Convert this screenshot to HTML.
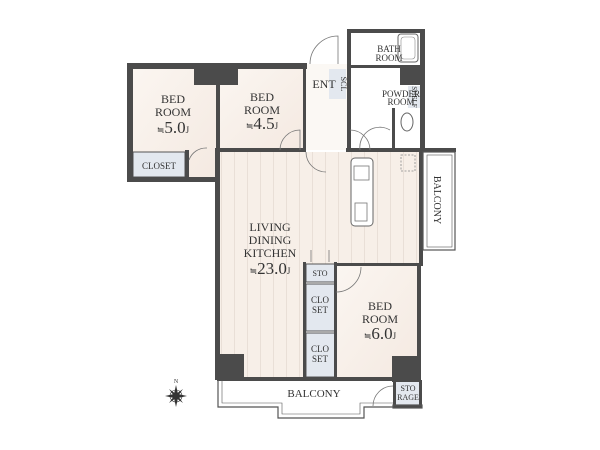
<!DOCTYPE html>
<html><head><meta charset="utf-8"><style>
html,body{margin:0;padding:0;background:#fff;width:600px;height:450px;overflow:hidden}
svg{display:block}
text{font-family:"Liberation Serif",serif;fill:#333;text-anchor:middle}
</style></head><body>
<svg width="600" height="450" viewBox="0 0 600 450" xmlns="http://www.w3.org/2000/svg">
<defs>
<linearGradient id="fl" x1="0" y1="0" x2="1" y2="1"><stop offset="0" stop-color="#fbf6f1"/><stop offset="1" stop-color="#f4e9e1"/></linearGradient>
<pattern id="pl" width="13" height="10" patternUnits="userSpaceOnUse"><rect width="13" height="10" fill="#f7efe8"/><line x1="0.5" y1="0" x2="0.5" y2="10" stroke="#e6dcd3" stroke-width="0.8"/></pattern>
</defs>
<rect x="130" y="67" width="88" height="113" fill="url(#fl)"/>
<rect x="218" y="67" width="87" height="83" fill="url(#fl)"/>
<rect x="305" y="64" width="45" height="86" fill="#fbf8f4"/>
<rect x="350" y="67" width="70" height="83" fill="#fff"/>
<rect x="220" y="152" width="201" height="113" fill="url(#pl)"/>
<rect x="220" y="265" width="86" height="113" fill="url(#pl)"/>
<rect x="336" y="265" width="84" height="113" fill="url(#fl)"/>
<rect x="133" y="152" width="52" height="25" fill="#e3e8ef" stroke="#555" stroke-width="1"/>
<rect x="306" y="264" width="29" height="18" fill="#e3e8ef" stroke="#555" stroke-width="1"/>
<rect x="306" y="284" width="29" height="47" fill="#e3e8ef" stroke="#555" stroke-width="1"/>
<rect x="306" y="333" width="29" height="44" fill="#e3e8ef" stroke="#555" stroke-width="1"/>
<rect x="329" y="69" width="17" height="30" fill="#e3e8ef"/>
<rect x="408" y="86" width="12" height="22" fill="#e3e8ef"/>
<rect x="396" y="382" width="24" height="24" fill="#e3e8ef"/>
<g fill="#4b4b4b">
<rect x="127" y="63" width="180" height="6"/>
<rect x="127" y="63" width="6" height="119"/>
<rect x="127" y="177" width="93" height="5"/>
<rect x="185" y="150" width="4" height="30"/>
<rect x="194" y="69" width="44" height="16"/>
<rect x="216" y="69" width="4" height="81"/>
<rect x="215" y="150" width="5" height="230"/>
<rect x="215" y="148" width="91" height="4"/>
<rect x="303" y="63" width="3" height="89"/>
<rect x="347" y="29" width="78" height="4"/>
<rect x="347" y="29" width="4" height="123"/>
<rect x="420" y="29" width="5" height="123"/>
<rect x="350" y="65" width="55" height="3"/>
<rect x="400" y="65" width="25" height="20"/>
<rect x="392" y="108" width="3" height="44"/>
<rect x="346" y="148" width="110" height="4"/>
<rect x="419" y="150" width="4" height="116"/>
<rect x="336" y="263" width="86" height="3"/>
<rect x="417" y="263" width="4" height="117"/>
<rect x="303" y="262" width="3" height="117"/>
<rect x="334" y="262" width="3" height="117"/>
<rect x="217" y="354" width="27" height="26"/>
<rect x="392" y="356" width="29" height="26"/>
<rect x="217" y="377" width="204" height="4"/>
<rect x="393" y="380" width="3" height="27"/>
<rect x="419" y="380" width="3" height="27"/>
</g>
<g fill="none" stroke="#555" stroke-width="1.2">
<rect x="423" y="152" width="32" height="98"/>
<rect x="427" y="155" width="25" height="92" stroke-width="0.6"/>
<path d="M218 380 V407 H278 V418 H364 V407 H393"/>
<path d="M222 380 V403 H282 V414 H360 V403 H393" stroke-width="0.6"/>
<rect x="393" y="405" width="29" height="3" fill="#4b4b4b"/>
</g>
<rect x="351" y="158" width="22" height="68" rx="4" fill="#fff" stroke="#666"/>
<rect x="354" y="166" width="15" height="14" fill="none" stroke="#777" stroke-width="0.8"/>
<rect x="355" y="203" width="12" height="18" fill="none" stroke="#777" stroke-width="0.8"/>
<rect x="401" y="155" width="14" height="16" fill="none" stroke="#888" stroke-dasharray="2,1.5" stroke-width="0.8"/>
<rect x="398" y="34" width="20" height="28" rx="3" fill="#fff" stroke="#666"/>
<rect x="401" y="37" width="14" height="22" rx="3" fill="none" stroke="#888" stroke-width="0.6"/>
<ellipse cx="407" cy="122" rx="6" ry="9" fill="#fff" stroke="#666"/>
<g fill="none" stroke="#777" stroke-width="0.8">
<path d="M310 64 A28 28 0 0 1 338 36 V64"/>
<path d="M189 160 A18 18 0 0 1 207 148"/>
<path d="M280 150 A20 20 0 0 1 300 130 V150"/>
<path d="M306 152 A20 20 0 0 0 326 172"/>
<path d="M350 130 A20 20 0 0 1 370 150"/>
<path d="M360 150 A20 20 0 0 1 390 130"/>
<path d="M336 292 A25 25 0 0 0 361 267"/>
<path d="M373 406 A20 20 0 0 1 393 386"/>
<path d="M311 262 V250 M329 262 V250"/>
</g>
<g font-size="12">
<text x="173" y="103">BED</text><text x="173" y="116">ROOM</text>
<text x="262" y="101">BED</text><text x="262" y="114">ROOM</text>
<text x="324" y="88">ENT</text>
<text x="389" y="52" font-size="9">BATH</text><text x="389" y="61" font-size="9">ROOM</text>
<text x="401" y="97" font-size="9">POWDER</text><text x="401" y="105" font-size="9">ROOM</text>
<text x="270" y="231">LIVING</text><text x="270" y="244">DINING</text><text x="270" y="257">KITCHEN</text>
<text x="380" y="310">BED</text><text x="380" y="323">ROOM</text>
<text x="159" y="169" font-size="9">CLOSET</text>
<text x="320" y="276" font-size="8">STO</text>
<text x="320" y="303" font-size="9">CLO</text><text x="320" y="313" font-size="9">SET</text>
<text x="320" y="352" font-size="9">CLO</text><text x="320" y="362" font-size="9">SET</text>
<text x="314" y="397" font-size="11">BALCONY</text>
<text x="408" y="391" font-size="8">STO</text><text x="408" y="400" font-size="8">RAGE</text>
<text x="0" y="0" font-size="10" transform="translate(434 200) rotate(90)">BALCONY</text>
<text x="0" y="0" font-size="8" transform="translate(341 84) rotate(90)">SCL</text>
<text x="0" y="0" font-size="7" transform="translate(412 97) rotate(90)">SHELF</text>
</g>
<g font-size="17">
<text x="173" y="133"><tspan font-size="9">≒</tspan>5.0<tspan font-size="9">J</tspan></text>
<text x="262" y="129"><tspan font-size="9">≒</tspan>4.5<tspan font-size="9">J</tspan></text>
<text x="270" y="274"><tspan font-size="9">≒</tspan>23.0<tspan font-size="9">J</tspan></text>
<text x="380" y="339"><tspan font-size="9">≒</tspan>6.0<tspan font-size="9">J</tspan></text>
</g>
<g transform="translate(176 396)" fill="#333">
<text x="0" y="-13" font-size="6">N</text>
<polygon points="0,-11 2,-2 0,0 -2,-2"/><polygon points="0,11 2,2 0,0 -2,2"/>
<polygon points="-11,0 -2,2 0,0 -2,-2"/><polygon points="11,0 2,2 0,0 2,-2"/>
<polygon points="-7,-7 0,-2 0,0 -2,0"/><polygon points="7,7 0,2 0,0 2,0"/>
<polygon points="7,-7 0,-2 0,0 2,0"/><polygon points="-7,7 0,2 0,0 -2,0"/>
<circle r="6" fill="none" stroke="#333" stroke-width="0.6"/>
</g>
</svg>
</body></html>
